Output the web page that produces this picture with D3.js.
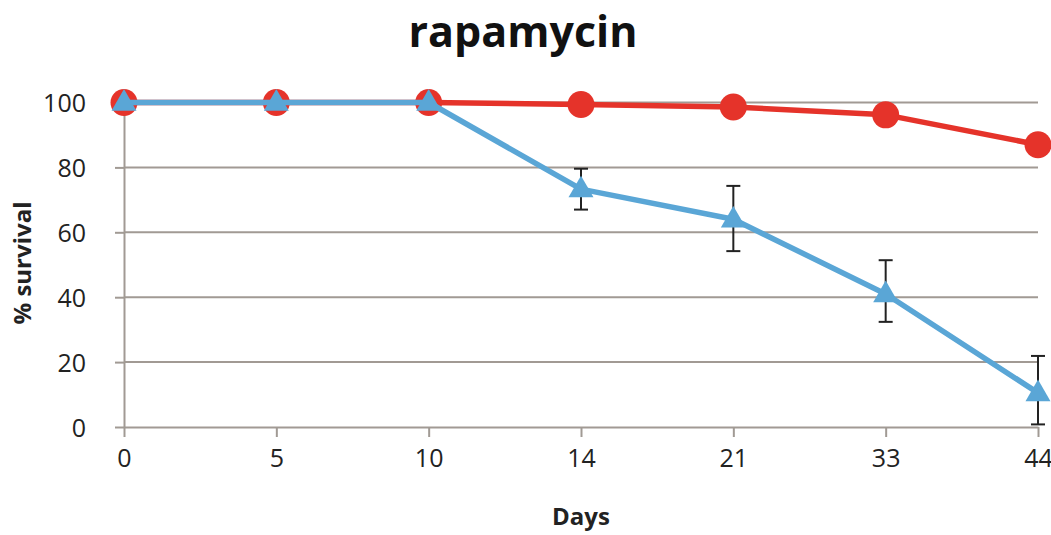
<!DOCTYPE html>
<html>
<head>
<meta charset="utf-8">
<script src="https://cdn.jsdelivr.net/npm/d3@7"></script>
<style>
  html, body { margin: 0; padding: 0; background: #fff; }
  svg { display: block; }
</style>
</head>
<body>
<svg id="chart" width="1051" height="535"></svg>
<script>
const categories = ["0", "5", "10", "14", "21", "33", "44"];
const controlValues = [100, 100, 100, 99.4, 98.6, 96.2, 87.0];
const rapamycinValues = [100, 100, 100, 73.3, 64.0, 41.0, 10.5];
const rapamycinErrHigh = [null, null, null, 79.6, 74.3, 51.4, 21.9];
const rapamycinErrLow = [null, null, null, 67.0, 54.2, 32.4, 0.8];
const yTicks = [0, 20, 40, 60, 80, 100];
const titleText = "rapamycin";
const xLabel = "Days";
const yLabel = "% survival";

const svg = d3.select("#chart");
const red = "#E5332A", blue = "#5AA6D6", grid = "#A19A94";
const font = "'Open Sans', 'Liberation Sans', sans-serif";

const x = d3.scalePoint().domain(categories).range([124, 1038]);
const y = d3.scaleLinear().domain([0, 100]).range([427, 102.5]);

// gridlines
svg.append("g").selectAll("line").data(yTicks.filter(d => d > 0)).join("line")
  .attr("x1", 124).attr("x2", 1038)
  .attr("y1", d => y(d)).attr("y2", d => y(d))
  .attr("stroke", grid).attr("stroke-width", 2);

// axes
const xAxis = svg.append("g").attr("transform", `translate(0,${y(0)})`)
  .call(d3.axisBottom(x).tickSize(10).tickSizeOuter(0).tickPadding(12));
const yAxis = svg.append("g").attr("transform", `translate(${x(categories[0])},0)`)
  .call(d3.axisLeft(y).tickValues(yTicks).tickSize(9).tickSizeOuter(0).tickPadding(29));
[xAxis, yAxis].forEach(g => {
  g.selectAll("path.domain").attr("stroke", grid).attr("stroke-width", 2);
  g.selectAll(".tick line").attr("stroke", grid).attr("stroke-width", 2);
  g.selectAll("text").attr("fill", "#222").style("font-family", font).style("font-size", "25px");
});
yAxis.selectAll(".tick text").attr("dy", "0.36em");
xAxis.selectAll(".tick text").attr("dy", "0.71em");

// title & labels
svg.append("text").attr("x", 523).attr("y", 47).attr("text-anchor", "middle")
  .style("font-family", font).style("font-weight", "bold").style("font-size", "43px")
  .attr("fill", "#111").text(titleText);
svg.append("text").attr("x", 581).attr("y", 525).attr("text-anchor", "middle")
  .style("font-family", font).style("font-weight", "bold").style("font-size", "24px")
  .attr("fill", "#222").text(xLabel);
svg.append("text").attr("transform", "translate(31,263) rotate(-90)").attr("text-anchor", "middle")
  .style("font-family", font).style("font-weight", "bold").style("font-size", "24px")
  .attr("fill", "#222").text(yLabel);

const line = d3.line().x((d, i) => x(categories[i])).y(d => y(d));

// control series (red)
svg.append("path").datum(controlValues).attr("d", line)
  .attr("fill", "none").attr("stroke", red).attr("stroke-width", 5.5).attr("stroke-linejoin", "round");
svg.append("g").selectAll("circle").data(controlValues).join("circle")
  .attr("cx", (d, i) => x(categories[i])).attr("cy", d => y(d)).attr("r", 13.5).attr("fill", red);

// error bars
const errData = categories.map((c, i) => ({c, hi: rapamycinErrHigh[i], lo: rapamycinErrLow[i]})).filter(d => d.hi != null);
const eb = svg.append("g").attr("stroke", "#222").attr("stroke-width", 2);
eb.selectAll("line.v").data(errData).join("line").attr("class", "v")
  .attr("x1", d => x(d.c)).attr("x2", d => x(d.c)).attr("y1", d => y(d.hi)).attr("y2", d => y(d.lo));
eb.selectAll("line.h").data(errData).join("line").attr("class", "h")
  .attr("x1", d => x(d.c) - 7).attr("x2", d => x(d.c) + 7).attr("y1", d => y(d.hi)).attr("y2", d => y(d.hi));
eb.selectAll("line.l").data(errData).join("line").attr("class", "l")
  .attr("x1", d => x(d.c) - 7).attr("x2", d => x(d.c) + 7).attr("y1", d => y(d.lo)).attr("y2", d => y(d.lo));

// rapamycin series (blue)
svg.append("path").datum(rapamycinValues).attr("d", line)
  .attr("fill", "none").attr("stroke", blue).attr("stroke-width", 5.5).attr("stroke-linejoin", "round");
const tri = d3.symbol().type(d3.symbolTriangle).size(270);
svg.append("g").selectAll("path").data(rapamycinValues).join("path")
  .attr("transform", (d, i) => `translate(${x(categories[i])},${y(d) + 1})`)
  .attr("d", tri).attr("fill", blue);
</script>
</body>
</html>
